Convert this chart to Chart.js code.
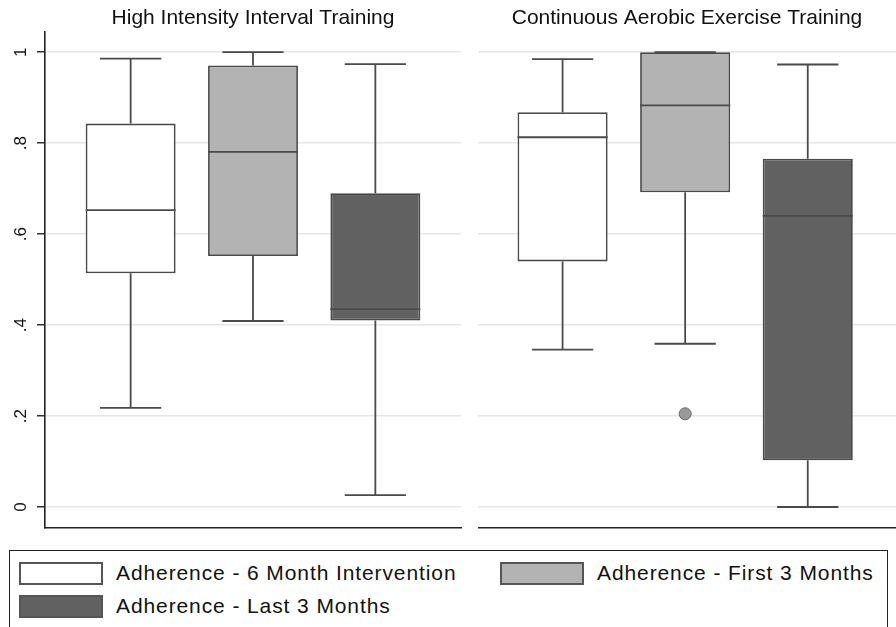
<!DOCTYPE html>
<html>
<head>
<meta charset="utf-8">
<script src="https://cdn.jsdelivr.net/npm/chart.js@4"></script>
<style>
  body { margin: 0; background: #fff; font-family: "Liberation Sans", Arial, sans-serif; }
  #wrap { position: relative; width: 896px; height: 627px; overflow: hidden; }
  canvas { position: absolute; top: 0; }
  #legend { position: absolute; left: 9px; top: 550px; width: 879px; height: 80px; border: 1.5px solid #222; box-sizing: border-box; }
  .sw { position: absolute; width: 80px; height: 19px; border: 2px solid #555; }
  .lb { position: absolute; font-size: 21px; letter-spacing: 0.9px; color: #111; line-height: 24px; white-space: nowrap; }
</style>
</head>
<body>
<div id="wrap">
  <canvas id="hiit" width="462" height="530" style="left:0"></canvas>
  <canvas id="caet" width="418" height="530" style="left:478px"></canvas>
  <div id="legend"></div>
</div>
<script>
// groups and colours
const series = ["Adherence - 6 Month Intervention", "Adherence - First 3 Months", "Adherence - Last 3 Months"];
const fills = ["#ffffff", "#b3b3b3", "#616161"];
const xs = [1, 2, 3];
const yTicks = [0, 0.2, 0.4, 0.6, 0.8, 1];
const yLabels = ["0", ".2", ".4", ".6", ".8", "1"];

// High Intensity Interval Training
const hiitLo = [0.218, 0.409, 0.026];
const hiitQ1 = [0.514, 0.552, 0.410];
const hiitMed = [0.653, 0.781, 0.435];
const hiitQ3 = [0.843, 0.971, 0.690];
const hiitHi = [0.986, 1.0, 0.974];
const hiitOut = [];

// Continuous Aerobic Exercise Training
const caetLo = [0.346, 0.359, 0.0];
const caetQ1 = [0.540, 0.692, 0.103];
const caetMed = [0.813, 0.883, 0.640];
const caetQ3 = [0.868, 1.0, 0.766];
const caetHi = [0.985, 1.0, 0.973];
const caetOut = [{ x: 2, y: 0.205 }];

const lineCol = "#4a4a4a";
const boxShare = 0.735;   // box width as share of spacing
const capHalf = 0.25;

function segments(lo, q1, med, q3, hi) {
  const pts = [];
  const gap = (x) => pts.push({ x: x, y: null });
  xs.forEach((x, i) => {
    pts.push({ x: x, y: q3[i] }, { x: x, y: hi[i] }); gap(x);
    pts.push({ x: x, y: q1[i] }, { x: x, y: lo[i] }); gap(x);
    pts.push({ x: x - capHalf, y: hi[i] }, { x: x + capHalf, y: hi[i] }); gap(x);
    pts.push({ x: x - capHalf, y: lo[i] }, { x: x + capHalf, y: lo[i] }); gap(x);
    pts.push({ x: x - boxShare / 2, y: med[i] }, { x: x + boxShare / 2, y: med[i] }); gap(x);
  });
  return pts;
}

// vertical tick labels, reading bottom to top
const sideLabels = {
  id: "sideLabels",
  afterDraw(chart, args, opts) {
    if (!opts.show) return;
    const y = chart.scales.y;
    const ctx = chart.ctx;
    ctx.save();
    ctx.fillStyle = "#111";
    ctx.font = "17px 'Liberation Sans'";
    ctx.textAlign = "center";
    ctx.textBaseline = "middle";
    yTicks.forEach((v, i) => {
      ctx.save();
      ctx.translate(21, y.getPixelForValue(v));
      ctx.rotate(-Math.PI / 2);
      ctx.fillText(yLabels[i], 0, 0);
      ctx.restore();
    });
    ctx.restore();
  },
};

function makePanel(id, title, lo, q1, med, q3, hi, out, left, xMin, xMax) {
  const datasets = [
    {
      type: "line",
      data: segments(lo, q1, med, q3, hi),
      borderColor: lineCol,
      borderWidth: 1.8,
      pointRadius: 0,
      spanGaps: false,
      order: 0,
    },
    {
      type: "scatter",
      data: out,
      pointRadius: 6,
      pointBackgroundColor: "#9a9a9a",
      pointBorderColor: "#666",
      pointBorderWidth: 1,
      order: 0,
    },
  ];
  series.forEach((name, i) => {
    datasets.push({
      type: "bar",
      label: name,
      data: [{ x: xs[i], y: [q1[i], q3[i]] }],
      backgroundColor: fills[i],
      borderColor: lineCol,
      borderWidth: 1.8,
      borderSkipped: false,
      grouped: false,
      barPercentage: 1,
      categoryPercentage: boxShare,
      order: 1,
    });
  });

  new Chart(document.getElementById(id), {
    data: { datasets: datasets },
    plugins: [sideLabels],
    options: {
      responsive: false,
      animation: false,
      layout: { autoPadding: false, padding: { left: 0, right: left ? 1 : 0, top: 0, bottom: 2.7 } },
      plugins: {
        legend: { display: false },
        tooltip: { enabled: false },
        sideLabels: { show: left },
        title: {
          display: true,
          text: title,
          fullSize: false,
          color: "#111",
          font: { family: "Liberation Sans", size: 21, weight: "normal" },
          padding: { top: 6, bottom: 1 },
        },
      },
      scales: {
        x: {
          type: "linear",
          offset: false,
          min: xMin,
          max: xMax,
          afterBuildTicks: (s) => { s.ticks = xs.map((v) => ({ value: v })); },
          ticks: { display: false },
          grid: { display: false, drawTicks: false },
          border: { display: true, color: "#222", width: 1.6 },
        },
        y: {
          min: -0.0446,
          max: 1.044,
          afterBuildTicks: (s) => { s.ticks = yTicks.map((v) => ({ value: v })); },
          afterFit: (s) => { s.width = left ? 45 : 0; },
          ticks: { display: false },
          grid: {
            color: "#e6e6e6",
            lineWidth: 1.5,
            drawTicks: left,
            tickLength: 8,
            tickColor: "#333",
          },
          border: { display: left, color: "#222", width: 1.6 },
        },
      },
    },
  });
}

makePanel("hiit", "High Intensity Interval Training", hiitLo, hiitQ1, hiitMed, hiitQ3, hiitHi, hiitOut, true, 0.3, 3.7);
makePanel("caet", "Continuous Aerobic Exercise Training", caetLo, caetQ1, caetMed, caetQ3, caetHi, caetOut, false, 0.31, 3.72);

// legend
const legend = document.getElementById("legend");
const spots = [[9, 10.5, 106], [490, 10.5, 587], [9, 43.5, 106]];
series.forEach((name, i) => {
  const sw = document.createElement("div");
  sw.className = "sw";
  sw.style.left = spots[i][0] + "px";
  sw.style.top = spots[i][1] + "px";
  sw.style.background = fills[i];
  legend.appendChild(sw);
  const lb = document.createElement("div");
  lb.className = "lb";
  lb.textContent = name;
  lb.style.left = spots[i][2] + "px";
  lb.style.top = (spots[i][1] - 0.5) + "px";
  legend.appendChild(lb);
});
</script>
</body>
</html>
